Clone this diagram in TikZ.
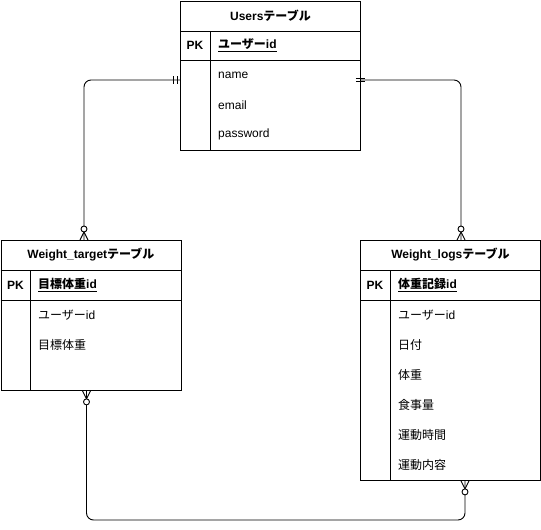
\documentclass[tikz,border=0pt]{standalone}
\usepackage{fontspec}
\setmainfont{Liberation Sans}
\newfontfamily\jp{Noto Sans CJK JP}
\usetikzlibrary{calc}
\tikzset{
  tbl/.style={draw, line width=0.9pt, inner sep=0pt, minimum width=180pt, anchor=north west},
  sep/.style={line width=0.9pt},
  ttl/.style={font=\fontsize{12}{14}\selectfont\bfseries, inner sep=0pt},
  pk/.style={font=\fontsize{12}{14}\selectfont\bfseries, inner sep=0pt},
  key/.style={font=\fontsize{12}{14}\selectfont\bfseries, inner sep=0pt, anchor=west},
  fld/.style={font=\fontsize{12}{14}\selectfont, inner sep=0pt, anchor=west},
  conn/.style={line width=0.9pt, rounded corners=7pt},
  zmany/.pic={\draw[line width=0.9pt] (-4,0) -- (0,8) -- (4,0);
              \draw[line width=0.9pt, fill=white] (0,11) circle[radius=3];},
  mone/.pic={\draw[line width=0.9pt] (-3,-4) -- (-3,4) (-7,-4) -- (-7,4);},
  moneb/.pic={\draw[line width=0.9pt] (-5,-1.5) -- (4,-1.5) (-5,1.5) -- (4,1.5);},
}
\begin{document}
\begin{tikzpicture}[x=1pt, y=-1pt]
\useasboundingbox (0,0) rectangle (541,530);

% ---- Users table
\node[tbl, minimum height=149pt] (users) at (180,1) {};
\draw[sep] ($(users.north west)+(0,30)$) -- ($(users.north east)+(0,30)$);
\draw[sep] ($(users.north west)+(0,59)$) -- ($(users.north east)+(0,59)$);
\draw[sep] ($(users.north west)+(30,30)$) -- (users.south west -| {$(users.north west)+(30,0)$});
\node[ttl] (users-t) at ($(users.north)+(0,15)$) {Users{\jp テーブル}};
\node[pk] (users-pk) at ($(users.north west)+(15,44)$) {PK};
\node[key] (users-k) at ($(users.north west)+(38,44)$) {\underline{{\jp ユーザー}id}};
\node[fld] (users-f1) at ($(users.north west)+(38,74)$) {name};
\node[fld] (users-f2) at ($(users.north west)+(38,104)$) {email};
\node[fld] (users-f3) at ($(users.north west)+(38,133)$) {password};

% ---- Weight_target table
\node[tbl, minimum height=150pt] (wt) at (0.5,240) {};
\draw[sep] ($(wt.north west)+(0,30)$) -- ($(wt.north east)+(0,30)$);
\draw[sep] ($(wt.north west)+(0,60)$) -- ($(wt.north east)+(0,60)$);
\draw[sep] ($(wt.north west)+(30,30)$) -- (wt.south west -| {$(wt.north west)+(30,0)$});
\node[ttl] (wt-t) at ($(wt.north)+(0,15)$) {Weight\_target{\jp テーブル}};
\node[pk] (wt-pk) at ($(wt.north west)+(15,45)$) {PK};
\node[key] (wt-k) at ($(wt.north west)+(37.5,45)$) {\underline{{\jp 目標体重}id}};
\node[fld] (wt-f1) at ($(wt.north west)+(37.5,75)$) {{\jp ユーザー}id};
\node[fld] (wt-f2) at ($(wt.north west)+(37.5,105)$) {\jp 目標体重};

% ---- Weight_logs table
\node[tbl, minimum height=240pt] (wl) at (360,240) {};
\draw[sep] ($(wl.north west)+(0,30)$) -- ($(wl.north east)+(0,30)$);
\draw[sep] ($(wl.north west)+(0,60)$) -- ($(wl.north east)+(0,60)$);
\draw[sep] ($(wl.north west)+(30,30)$) -- (wl.south west -| {$(wl.north west)+(30,0)$});
\node[ttl] (wl-t) at ($(wl.north)+(0,15)$) {Weight\_logs{\jp テーブル}};
\node[pk] (wl-pk) at ($(wl.north west)+(15,45)$) {PK};
\node[key] (wl-k) at ($(wl.north west)+(38,45)$) {\underline{{\jp 体重記録}id}};
\node[fld] (wl-f1) at ($(wl.north west)+(38,75)$) {{\jp ユーザー}id};
\node[fld] (wl-f2) at ($(wl.north west)+(38,105)$) {\jp 日付};
\node[fld] (wl-f3) at ($(wl.north west)+(38,135)$) {\jp 体重};
\node[fld] (wl-f4) at ($(wl.north west)+(38,165)$) {\jp 食事量};
\node[fld] (wl-f5) at ($(wl.north west)+(38,195)$) {\jp 運動時間};
\node[fld] (wl-f6) at ($(wl.north west)+(38,225)$) {\jp 運動内容};

% ---- connector end points
\coordinate (ul) at ($(users.north west)+(0,79)$);
\coordinate (ur) at ($(users.north east)+(0,79)$);
\coordinate (wtt) at ($(wt.north west)+(83.5,0)$);
\coordinate (wtb) at ($(wt.south west)+(86,0)$);
\coordinate (wlt) at ($(wl.north west)+(101,0)$);
\coordinate (wlb) at ($(wl.south west)+(105,0)$);
\coordinate (low) at (0,520);

% ---- connectors
\draw[conn] (ul) -| (wtt);
\draw[conn] (ur) -| (wlt);
\draw[conn] (wtb) -- (wtb |- low) -- (wlb |- low) -- (wlb);

% ---- markers
\pic at (ul) {mone};
\pic at (ur) {moneb};
\pic[rotate=180] at (wtt) {zmany};
\pic[rotate=180] at (wlt) {zmany};
\pic at (wtb) {zmany};
\pic at (wlb) {zmany};
\end{tikzpicture}
\end{document}
